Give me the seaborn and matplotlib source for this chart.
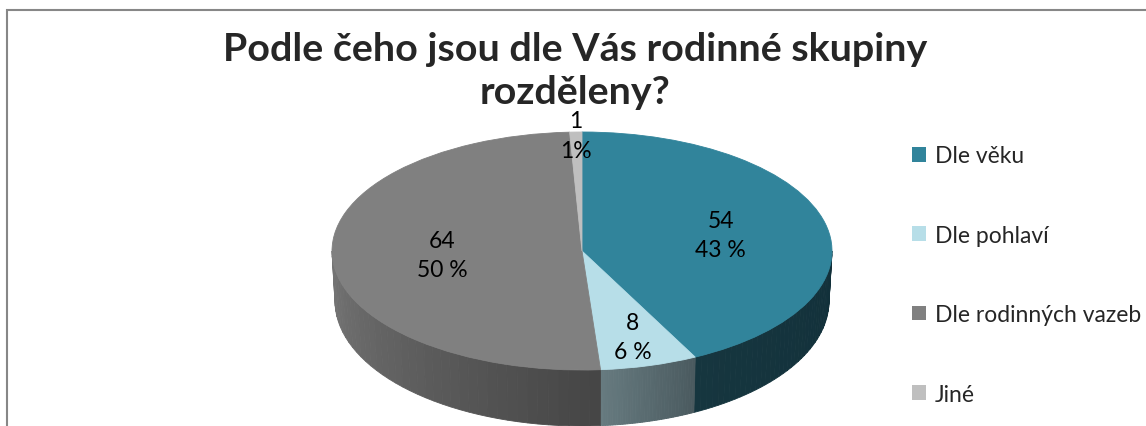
import numpy as np
import seaborn as sns
import matplotlib.pyplot as plt
from matplotlib.patches import Rectangle, Patch
from matplotlib.colors import to_rgb

# data
categories = ["Dle věku", "Dle pohlaví", "Dle rodinných vazeb", "Jiné"]
counts = [54, 8, 64, 1]
pct_labels = ["43 %", "6 %", "50 %", "1%"]
title = "Podle čeho jsou dle Vás rodinné skupiny\nrozděleny?"

top_colors = ["#31849b", "#b7dee8", "#808080", "#bfbfbf"]
# side shading (left end, right end) for each slice
side_colors = [("#16363f", "#12303a"), ("#677b80", "#4a5a5f"),
               ("#777777", "#454545"), ("#9a9a9a", "#8a8a8a")]
label_radius = [0.57, 0.75, 0.56, 0.97]

sns.set_theme(style="white")
plt.rcParams['font.family'] = ['Lato', 'DejaVu Sans']

fig = plt.figure(figsize=(11.46, 4.27), dpi=100)
ax = fig.add_axes([0, 0, 1, 1])

palette = sns.color_palette(top_colors)
wedges, _ = ax.pie(counts, colors=palette, startangle=90, counterclock=False,
                   radius=1, center=(0, 0), wedgeprops=dict(linewidth=0))
for w in wedges:
    w.set_edgecolor(w.get_facecolor())
    w.set_linewidth(0.6)
    w.set_zorder(3)

# squash the round pie into an ellipse (pixel mapping of the reference)
cx, cy, a_px, b_px = 582, 252, 250, 119
W, H = 1146, 427
ax.set_aspect('auto')
ax.set_xlim(-cx / a_px, (W - cx) / a_px)
ax.set_ylim((cy - H) / b_px, cy / b_px)
ax.axis('off')

# 3D side wall (front half only)
depth = 50 / b_px
a2, b2 = 247 / a_px, 125 / b_px
fracs = np.cumsum([0] + counts) / sum(counts)
for i in range(len(counts)):
    t_start = 90 - fracs[i + 1] * 360
    t_end = 90 - fracs[i] * 360
    lo, hi = max(t_start, -180), min(t_end, 0)
    if lo >= hi:
        continue
    c0, c1 = np.array(to_rgb(side_colors[i][0])), np.array(to_rgb(side_colors[i][1]))
    edges = np.linspace(lo, hi, 40)
    for k in range(len(edges) - 1):
        t = np.radians(np.linspace(edges[k], edges[k + 1], 6))
        xs = np.concatenate([np.cos(t), (a2 * np.cos(t))[::-1]])
        ys = np.concatenate([np.sin(t), (-depth + b2 * np.sin(t))[::-1]])
        f = (k + 0.5) / (len(edges) - 1)
        col = c0 * (1 - f) + c1 * f
        ax.fill(xs, ys, color=col, lw=0.6, ec=col, zorder=2)

# value labels
for i in range(len(counts)):
    mid = np.radians(90 - (fracs[i] + fracs[i + 1]) / 2 * 360)
    r = label_radius[i]
    ax.text(r * np.cos(mid), r * np.sin(mid), "{}\n{}".format(counts[i], pct_labels[i]),
            ha='center', va='center', fontsize=16.5, linespacing=1.5,
            color='black', zorder=5)

# title
fig.text(575 / W, 1 - 71 / H, title, ha='center', va='center',
         fontsize=28.4, fontweight='bold', linespacing=1.25)

# legend
handles = [Patch(facecolor=c, edgecolor='none') for c in top_colors]
fig.legend(handles, categories, loc='center left',
           bbox_to_anchor=(912 / W, 1 - 276 / H), frameon=False,
           fontsize=16.5, labelspacing=2.55, handlelength=0.6,
           handleheight=0.6, handletextpad=0.4, borderpad=0, borderaxespad=0)

# chart frame (only top and left edges are inside the crop)
fig.patches.append(Rectangle((7 / W, -0.2), 1.2, 1.2 - 11 / H,
                             transform=fig.transFigure, fill=False,
                             edgecolor='#878787', linewidth=1.5))

fig.savefig("out.png", dpi=100)
